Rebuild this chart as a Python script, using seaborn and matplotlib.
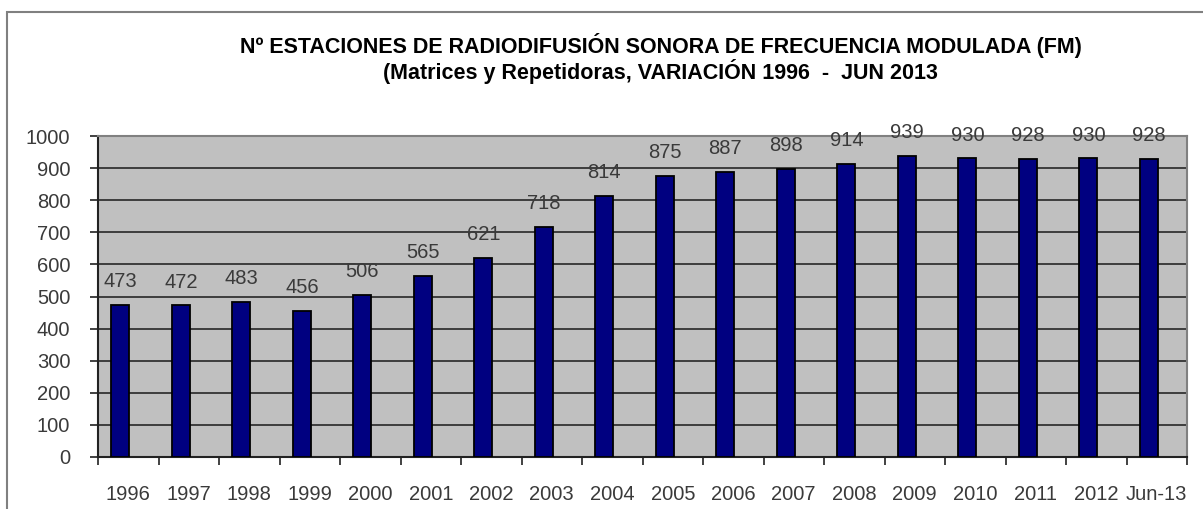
import matplotlib
matplotlib.use("Agg")
import matplotlib.pyplot as plt
import seaborn as sns
import numpy as np
from matplotlib.patches import Rectangle

# data
years = ["1996", "1997", "1998", "1999", "2000", "2001", "2002", "2003", "2004",
         "2005", "2006", "2007", "2008", "2009", "2010", "2011", "2012", "Jun-13"]
estaciones = [473, 472, 483, 456, 506, 565, 621, 718, 814,
              875, 887, 898, 914, 939, 930, 928, 930, 928]
y_ticks = list(range(0, 1001, 100))

sns.set_style("white")
plt.rcParams['font.family'] = ['Liberation Sans', 'DejaVu Sans']

fig = plt.figure(figsize=(12.03, 5.09), dpi=100)
ax = fig.add_axes([98 / 1203, 1 - 457 / 509, (1187 - 98) / 1203, (457 - 136) / 509])
ax.set_facecolor('#c0c0c0')

# outer chart frame
fig.patches.append(Rectangle((7 / 1203, -0.1), 1.2, 1 - 12 / 509 + 0.1,
                             transform=fig.transFigure, fill=False,
                             edgecolor='#808080', linewidth=1.5))

sns.barplot(x=years, y=estaciones, color='#000080', saturation=1,
            edgecolor='black', linewidth=1.3, width=0.3, ax=ax, zorder=3)

# bars sit a little left of the category centre in the original
bar_shift = 0.13
for p in ax.patches:
    p.set_x(p.get_x() - bar_shift)

ax.set_xlim(-0.5, len(years) - 0.5)
ax.set_ylim(0, 1000)
ax.set_yticks(y_ticks)
ax.yaxis.grid(True, color='#333333', linewidth=1.3, zorder=0)
ax.set_axisbelow(True)

# value labels
for i, v in enumerate(estaciones):
    ax.annotate(str(v), (i - bar_shift, v), xytext=(0, 10), textcoords='offset points',
                ha='center', va='bottom', fontsize=14.5, color='#3a3a3a',
                annotation_clip=False)

# ticks
ax.set_xticks(np.arange(-0.5, len(years)), minor=True)
ax.tick_params(axis='x', which='major', length=0, pad=20, labelsize=14.5,
               labelcolor='#3a3a3a')
ax.tick_params(axis='x', which='minor', length=6, width=1.3, color='#333333',
               direction='out', bottom=True)
ax.tick_params(axis='y', which='major', length=6, width=1.3, color='#333333',
               direction='out', left=True, pad=14, labelsize=14.5,
               labelcolor='#3a3a3a')

for s in ['left', 'bottom']:
    ax.spines[s].set_color('#222222')
    ax.spines[s].set_linewidth(1.5)
for s in ['top', 'right']:
    ax.spines[s].set_color('#808080')
    ax.spines[s].set_linewidth(1.5)

ax.set_xlabel("")
ax.set_ylabel("")

fig.text(0.549, 1 - 46 / 509,
         "Nº ESTACIONES DE RADIODIFUSIÓN SONORA DE FRECUENCIA MODULADA (FM)",
         ha='center', va='center', fontsize=15.5, fontweight='bold', color='black')
fig.text(0.549, 1 - 72 / 509,
         "(Matrices y Repetidoras, VARIACIÓN 1996  -  JUN 2013",
         ha='center', va='center', fontsize=15.5, fontweight='bold', color='black')

fig.savefig("out.png", dpi=100, facecolor='white')
